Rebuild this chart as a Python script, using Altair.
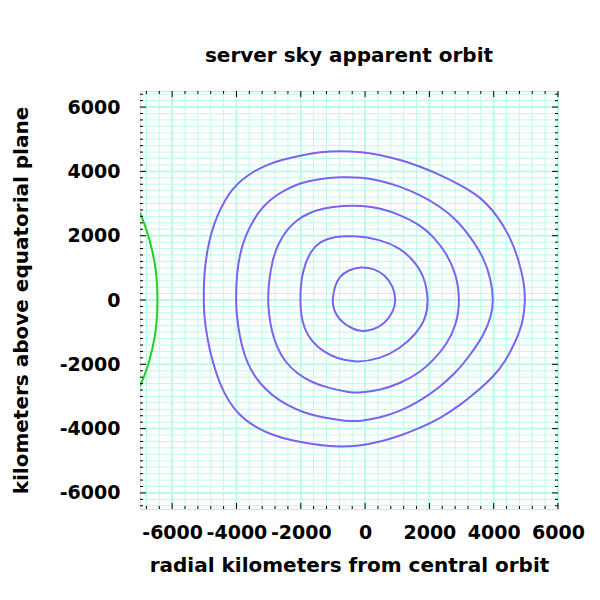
import altair as alt
import pandas as pd

TITLE = "server sky apparent orbit"
X_TITLE = "radial kilometers from central orbit"
Y_TITLE = "kilometers above equatorial plane"

X_DOMAIN = [-7000, 6000]
Y_DOMAIN = [-6500, 6500]

X_MAJOR = [-6000, -4000, -2000, 0, 2000, 4000, 6000]
Y_MAJOR = [-6000, -4000, -2000, 0, 2000, 4000, 6000]
X_MINOR = [v for v in range(-6800, 6001, 400) if v % 2000 != 0]
Y_MINOR = [v for v in range(-6400, 6401, 200) if v % 2000 != 0]

# apparent orbit loops, counter-clockwise from the left
LOOP1_X = [-1010, -955, -799, -519, -130, 259, 622, 881, 964, 881, 622, 259, -155, -363, -675, -913, -1005]
LOOP1_Y = [0, 415, 727, 935, 1035, 987, 779, 415, 0, -363, -727, -935, -980, -903, -727, -467, -156]

LOOP2_X = [-2022, -1991, -1866, -1658, -1400, -985, -363, 467, 1089, 1502, 1850, 1975,
           1900, 1555, 1089, 467, -300, -881, -1297, -1658, -1897, -1991]
LOOP2_Y = [0, 623, 1142, 1558, 1817, 1973, 2003, 1890, 1610, 1246, 727, 0,
           -571, -1090, -1506, -1838, -1950, -1817, -1609, -1298, -883, -467]

LOOP3_X = [-3027, -2986, -2883, -2696, -2436, -2125, -1762, -1297, -675, -100, 467, 1089,
           1711, 2126, 2530, 2830, 2960, 2840, 2530, 2126, 1711, 1089, 467, -155, -467,
           -1089, -1658, -2125, -2488, -2727, -2903, -2986]
LOOP3_Y = [0, 623, 1246, 1766, 2181, 2492, 2700, 2856, 2938, 2938, 2856, 2648,
           2336, 1973, 1454, 830, 0, -779, -1402, -1869, -2254, -2596, -2804, -2887, -2877,
           -2752, -2565, -2285, -1921, -1505, -986, -467]

LOOP4_X = [-4022, -3991, -3888, -3733, -3473, -3214, -2903, -2488, -2022, -1503, -778, -100,
           467, 1089, 1711, 2333, 2851, 3266, 3680, 3925, 3991, 3940, 3700, 3266, 2851,
           2333, 1711, 1089, 467, -155, -570, -1297, -1918, -2436, -2903, -3266, -3525,
           -3764, -3909, -3991]
LOOP4_Y = [0, 830, 1454, 1973, 2492, 2856, 3167, 3427, 3635, 3759, 3832, 3815,
           3718, 3531, 3271, 2908, 2492, 1973, 1350, 623, 0, -467, -1090, -1713, -2233,
           -2700, -3146, -3458, -3666, -3769, -3769, -3666, -3500, -3271, -2960, -2596, -2233,
           -1713, -1090, -467]

LOOP5_X = [-5020, -5008, -4905, -4790, -4613, -4355, -4147, -3836, -3473, -3058, -2592, -1918,
           -1400, -778, -100, 467, 1089, 1711, 2333, 2955, 3577, 4096, 4510, 4780, 4950,
           4985, 4920, 4680, 4355, 3991, 3474, 2955, 2333, 1711, 1089, 467, -155, -985,
           -1607, -2333, -2852, -3318, -3733, -4096, -4407, -4613, -4800, -4924, -5008]
LOOP5_Y = [0, 830, 1558, 2077, 2595, 3115, 3427, 3738, 3997, 4206, 4361, 4517,
           4600, 4642, 4600, 4517, 4361, 4153, 3894, 3583, 3219, 2648, 1973, 1246, 519,
           0, -675, -1298, -1921, -2389, -2856, -3271, -3686, -3977, -4226, -4413, -4538, -4569,
           -4486, -4361, -4206, -3998, -3738, -3375, -2856, -2336, -1713, -1090, -467]

# green arc at the left edge
ARC_X = [-7000, -6790, -6616, -6479, -6448, -6479, -6616, -6790, -7000]
ARC_Y = [2720, 2181, 1558, 831, 0, -831, -1558, -2181, -2680]

FONT = "DejaVu Sans"
BLUE = "#7b62f0"
GREEN = "#1fd11f"
GRID = "#bcfbe8"
W = 418
H = 418
LFS = 19
TFS = 20

rows = []
for k, (lx, ly) in enumerate([(LOOP1_X, LOOP1_Y), (LOOP2_X, LOOP2_Y), (LOOP3_X, LOOP3_Y),
                              (LOOP4_X, LOOP4_Y), (LOOP5_X, LOOP5_Y)], 1):
    for i, (x, y) in enumerate(zip(lx, ly)):
        rows.append({"loop": k, "i": i, "x": x, "y": y})
loops_df = pd.DataFrame(rows)
arc_df = pd.DataFrame({"i": list(range(len(ARC_X))), "x": ARC_X, "y": ARC_Y})

xs = alt.Scale(domain=X_DOMAIN, nice=False, zero=False)
ys = alt.Scale(domain=Y_DOMAIN, nice=False, zero=False)
label_expr = "'' + datum.value"

x_axis = alt.Axis(
    values=X_MAJOR, grid=False, ticks=False, domain=False, labelExpr=label_expr,
    labelFont=FONT, labelFontSize=LFS, labelFontWeight="bold", labelColor="black",
    labelPadding=14, labelOverlap=False, labelFlush=False,
    title=X_TITLE, titleFont=FONT, titleFontSize=TFS, titleFontWeight="bold",
    titleColor="black", titleX=W / 2, titleY=62, titleAlign="center",
    titleBaseline="alphabetic",
)
y_axis = alt.Axis(
    values=Y_MAJOR, grid=False, ticks=False, domain=False, labelExpr=label_expr,
    labelFont=FONT, labelFontSize=LFS, labelFontWeight="bold", labelColor="black",
    labelPadding=20, labelOverlap=False, labelFlush=False,
    title=Y_TITLE, titleFont=FONT, titleFontSize=TFS, titleFontWeight="bold",
    titleColor="black", titleX=-113, titleY=H / 2, titleAlign="center",
    titleBaseline="alphabetic", titleAngle=270,
)


def X(field="x"):
    return alt.X(f"{field}:Q", scale=xs, axis=x_axis)


def Y(field="y"):
    return alt.Y(f"{field}:Q", scale=ys, axis=y_axis)


def vgrid(vals, width):
    d = pd.DataFrame({"x": vals})
    return alt.Chart(d).mark_rule(color=GRID, strokeWidth=width).encode(
        x=X(), y=alt.value(0), y2=alt.value(H)
    )


def hgrid(vals, width):
    d = pd.DataFrame({"y": vals})
    return alt.Chart(d).mark_rule(color=GRID, strokeWidth=width).encode(
        y=Y(), x=alt.value(0), x2=alt.value(W)
    )


def xticks(vals, length, top):
    d = pd.DataFrame({"x": vals})
    y0, y1 = (0, length) if top else (H, H - length)
    return alt.Chart(d).mark_rule(color="black", strokeWidth=1).encode(
        x=X(), y=alt.value(y0), y2=alt.value(y1)
    )


def yticks(vals, length, right):
    d = pd.DataFrame({"y": vals})
    x0, x1 = (W, W - length) if right else (0, length)
    return alt.Chart(d).mark_rule(color="black", strokeWidth=1).encode(
        y=Y(), x=alt.value(x0), x2=alt.value(x1)
    )


grid_layers = [vgrid(X_MINOR, 1), hgrid(Y_MINOR, 1), vgrid(X_MAJOR, 2), hgrid(Y_MAJOR, 2)]

curves = alt.Chart(loops_df).mark_line(
    interpolate="basis-closed", strokeWidth=2, color=BLUE, clip=True
).encode(
    x=X(), y=Y(), detail="loop:N", order="i:Q",
)

arc = alt.Chart(arc_df).mark_line(
    interpolate="basis", strokeWidth=2, color=GREEN, clip=True
).encode(
    x=X(), y=Y(), order="i:Q",
)

tick_layers = [
    xticks(X_MAJOR, 6, False), xticks(X_MINOR, 3, False),
    xticks(X_MAJOR, 6, True), xticks(X_MINOR, 3, True),
    yticks(Y_MAJOR, 6, False), yticks(Y_MINOR, 3, False),
    yticks(Y_MAJOR, 6, True), yticks(Y_MINOR, 3, True),
]

chart = alt.layer(*grid_layers, curves, arc, *tick_layers).properties(
    width=W,
    height=H,
    title=alt.TitleParams(
        TITLE, font=FONT, fontSize=TFS, fontWeight="bold", color="black",
        anchor="middle", baseline="alphabetic", offset=8, frame="group",
    ),
    autosize=alt.AutoSizeParams(type="none"),
    padding={"left": 132, "top": 83, "right": 34, "bottom": 70},
).configure_view(
    stroke="black", strokeWidth=1
).configure(background="white")

chart.save("out.html", embed_options={"renderer": "svg", "actions": False})
